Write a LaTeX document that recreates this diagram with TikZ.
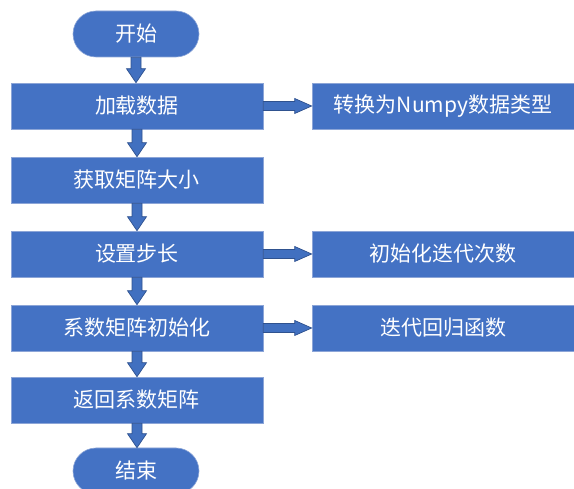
\documentclass[tikz,border=0pt]{standalone}
\usepackage{fontspec}
\newfontfamily\cjk{Noto Sans CJK SC}
\usetikzlibrary{calc}
\definecolor{boxblue}{HTML}{4472C4}
\definecolor{boxedge}{HTML}{8CA5D7}
\definecolor{arrfill}{HTML}{4170C0}
\definecolor{arredge}{HTML}{2F528F}
\tikzset{
  base/.style={fill=boxblue, draw=boxedge, line width=0.6pt, text=white,
    font=\cjk\fontsize{21}{25}\selectfont, inner sep=0pt, minimum height=46pt},
  procbox/.style={base, minimum width=252pt},
  sidebox/.style={base, minimum width=262pt},
  pill/.style={base, minimum width=126pt, rounded corners=23pt},
  arrowstyle/.style={fill=arrfill, draw=arredge, line width=0.7pt, line join=miter},
  blockdown/.style={arrowstyle, to path={let \p1=(\tikztostart), \p2=(\tikztotarget) in
    (\x1-5pt,\y1) -- (\x1-5pt,\y2+14pt) -- (\x1-9.5pt,\y2+14pt) -- (\x1,\y2)
    -- (\x1+9.5pt,\y2+14pt) -- (\x1+5pt,\y2+14pt) -- (\x1+5pt,\y1) -- cycle}},
  blockright/.style={arrowstyle, to path={let \p1=(\tikztostart), \p2=(\tikztotarget) in
    (\x1,\y1+4.5pt) -- (\x2-17pt,\y1+4.5pt) -- (\x2-17pt,\y1+7.5pt) -- (\x2,\y1)
    -- (\x2-17pt,\y1-7.5pt) -- (\x2-17pt,\y1-4.5pt) -- (\x1,\y1-4.5pt) -- cycle}}
}
\begin{document}
\begin{tikzpicture}[x=1pt,y=1pt]
\useasboundingbox (0,0) rectangle (574,-489);
\node[pill] (start) at (136,-34) {开始};
\node[procbox] (b1) at (137,-106) {加载数据};
\node[procbox] (b2) at (137,-180) {获取矩阵大小};
\node[procbox] (b3) at (137,-254) {设置步长};
\node[procbox] (b4) at (137,-328) {系数矩阵初始化};
\node[procbox] (b5) at (137,-400) {返回系数矩阵};
\node[pill] (end) at (136,-471) {结束};
\node[sidebox] (r1) at (443,-106) {转换为Numpy数据类型};
\node[sidebox] (r3) at (443,-254) {初始化迭代次数};
\node[sidebox] (r4) at (443,-328) {迭代回归函数};
\draw[blockdown] (start.south) to (b1.north);
\draw[blockdown] (b1.south) to (b2.north);
\draw[blockdown] (b2.south) to (b3.north);
\draw[blockdown] (b3.south) to (b4.north);
\draw[blockdown] (b4.south) to (b5.north);
\draw[blockdown] (b5.south) to (end.north);
\draw[blockright] (b1.east) to (r1.west);
\draw[blockright] (b3.east) to (r3.west);
\draw[blockright] (b4.east) to (r4.west);
\end{tikzpicture}
\end{document}
